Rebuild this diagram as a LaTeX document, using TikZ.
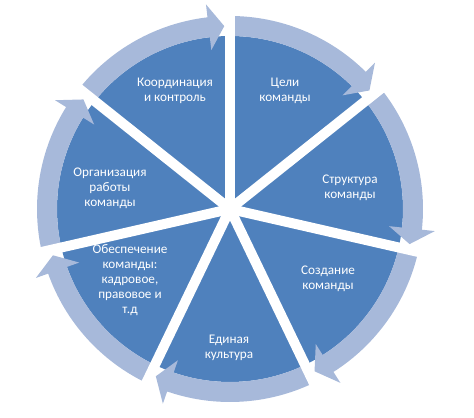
\documentclass[tikz,border=0pt]{standalone}
\usepackage{fontspec}
\setmainfont{Carlito}
\definecolor{segblue}{HTML}{4F81BD}
\definecolor{ringblue}{HTML}{A7B9DA}
\begin{document}
\begin{tikzpicture}[x=0.75pt,y=0.75pt,
  seg/.style={fill=segblue},
  ring/.style={fill=ringblue},
  gap/.style={draw=white,line width=7.5pt},
  txt/.style={text=white,align=center,font=\fontsize{9.9}{11.3}\selectfont}]
\useasboundingbox (0,0) rectangle (474,417);
\begin{scope}[shift={(230,208)}]
% sectors
\foreach \k in {0,...,6}{
  \pgfmathsetmacro\s{90-\k*360/7}
  \pgfmathsetmacro\e{\s-360/7}
  \fill[seg] (0,0) -- (\s:173) arc[start angle=\s,end angle=\e,radius=173] -- cycle;
}
% arrows round the ring
\foreach \k in {0,...,6}{
  \pgfmathsetmacro\s{90-\k*360/7}
  \pgfmathsetmacro\t{\s-360/7+1.8}
  \pgfmathsetmacro\h{\t+4.9}
  \fill[ring] (\s:193) arc[start angle=\s,end angle=\h,radius=193]
    -- (\h:206) -- (\t:183) -- (\h:160) -- (\h:173)
    arc[start angle=\h,end angle=\s,radius=173] -- cycle;
}
% white gaps
\foreach \k in {0,...,6}
  \draw[gap] (0,0) -- ({90-\k*360/7}:210);
\end{scope}
\node[txt] (goals) at (285,326) {Цели\\команды};
\node[txt] (structure) at (350,229) {Структура\\команды};
\node[txt] (creation) at (328,138) {Создание\\команды};
\node[txt] (culture) at (229,69) {Единая\\культура};
\node[txt] (support) at (130,137) {Обеспечение\\команды:\\кадровое,\\правовое и\\т.д};
\node[txt] (organization) at (110,229) {Организация\\работы\\команды};
\node[txt] (coordination) at (175,326) {Координация\\и контроль};
\end{tikzpicture}
\end{document}
